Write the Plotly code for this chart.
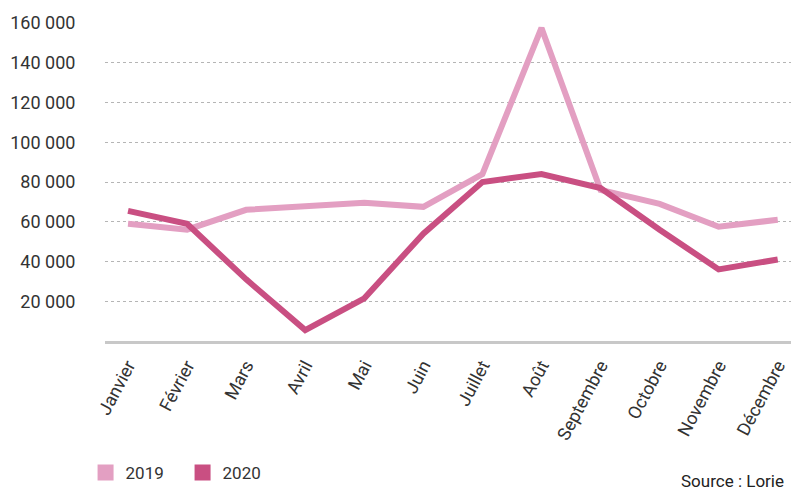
import plotly.graph_objects as go

mois = ["Janvier", "Février", "Mars", "Avril", "Mai", "Juin", "Juillet", "Août",
        "Septembre", "Octobre", "Novembre", "Décembre"]
ventes_2019 = [59000, 56000, 66000, 68000, 69500, 67500, 84000, 157500, 76000, 69000, 57500, 61000]
ventes_2020 = [65500, 59000, 31000, 5500, 21500, 54000, 80000, 84000, 77000, 56000, 36000, 41000]
y_ticks = [20000, 40000, 60000, 80000, 100000, 120000, 140000, 160000]

c2019 = "#e39fc2"
c2020 = "#c94f82"
police = "Roboto"

fig = go.Figure()
for nom, vals, col in [("2019", ventes_2019, c2019), ("2020", ventes_2020, c2020)]:
    fig.add_trace(go.Scatter(x=mois, y=vals, mode="lines", line=dict(color=col, width=6),
                             showlegend=False, hoverinfo="skip"))
# carrés de légende
for nom, col in [("2019", c2019), ("2020", c2020)]:
    fig.add_trace(go.Scatter(x=[None], y=[None], mode="markers", name=nom,
                             marker=dict(symbol="square", size=18, color=col)))

# la page ajoute une marge de 8 px autour du graphique
fig.update_layout(
    width=791, height=483,
    margin=dict(l=97, r=0, t=15, b=150),
    paper_bgcolor="white", plot_bgcolor="white",
    separators=", ",
    font=dict(family=police, size=17, color="#333333"),
    legend=dict(orientation="h", x=-0.028, y=-0.019, yref="container", xanchor="left",
                yanchor="bottom", font=dict(size=17, color="#333333"), itemwidth=30,
                entrywidth=52, entrywidthmode="pixels",
                traceorder="normal", tracegroupgap=0),
    xaxis=dict(range=[-0.39, 11.36], showgrid=False, showline=True, linecolor="#c8c8c8",
               linewidth=3, ticks="outside", ticklen=4, tickcolor="white", tickangle=-62,
               tickfont=dict(size=18), automargin=False),
    yaxis=dict(range=[0, 160000], tickvals=y_ticks, tickformat=",d", showline=False,
               zeroline=False, gridcolor="#b5b5b5", griddash="dot", gridwidth=1,
               ticks="outside", ticklen=25, tickcolor="white", tickfont=dict(size=18),
               automargin=False),
    annotations=[dict(text="Source : Lorie", x=1, y=-0.44, xref="paper", yref="paper",
                      xanchor="right", yanchor="middle", showarrow=False, xshift=-13,
                      font=dict(size=17, color="#222222"))],
)

fig.write_html("out.html")
